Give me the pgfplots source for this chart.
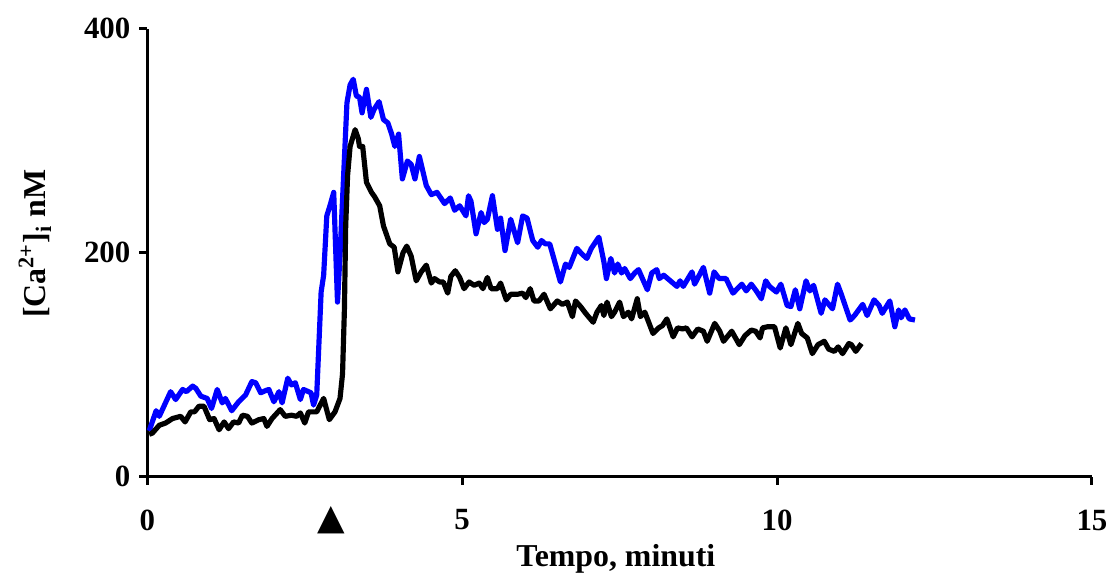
\documentclass[border=0pt]{standalone}
\usepackage{fontspec}
\setmainfont{Liberation Serif}
\newfontfamily\dejavu{DejaVu Sans}
\usepackage{pgfplots}
\pgfplotsset{compat=1.18}
\begin{document}
\begin{tikzpicture}
\begin{axis}[
  name=ax,
  scale only axis,
  width=474.5pt, height=225pt,
  xmin=0, xmax=15, ymin=0, ymax=400,
  axis lines=left,
  axis line style={-, line width=1.5pt},
  xtick={0,5,10,15}, ytick={0,200,400},
  tick align=outside,
  major tick length=4pt,
  every tick/.style={black, line width=1.5pt},
  /pgf/number format/assume math mode=true,
  tick label style={font=\fontsize{15.5}{18}\selectfont\bfseries},
  xticklabel style={yshift=-9pt},
  yticklabel style={xshift=-1pt},
  extra x ticks={2.92},
  extra x tick labels={{\dejavu\fontsize{18}{20}\selectfont ▲}},
  extra x tick style={major tick length=0pt, xticklabel style={yshift=-2.5pt}},
  xlabel={Tempo, minuti},
  ylabel={[Ca\textsuperscript{2+}]\textsubscript{i} nM},
  xlabel style={font=\fontsize{16}{19}\selectfont\bfseries, at={(axis description cs:0.496,-0.184)}, anchor=center},
  ylabel style={font=\fontsize{16}{19}\selectfont\bfseries, at={(axis description cs:-0.119,0.52)}, anchor=center, rotate=0},
  clip=false,
]
\addplot[blue, line width=2.6pt, line join=round] coordinates {
(0.03,41)(0.14,59)(0.19,54)(0.37,76)(0.45,69)(0.56,78)(0.62,76)(0.72,81)(0.77,79)(0.85,72)
(0.95,70)(1.02,61)(1.11,78)(1.19,66)(1.24,70)(1.34,59)(1.45,67)(1.56,73)(1.66,85)(1.72,84)
(1.80,75)(1.88,77)(1.93,78)(2.01,67)(2.09,76)(2.14,66)(2.23,88)(2.29,82)(2.35,84)(2.43,69)
(2.48,78)(2.56,76)(2.60,75)(2.64,64)(2.69,73)(2.76,165)(2.80,180)(2.85,233)(2.90,242)(2.96,254)
(3.02,156)(3.06,198)(3.11,260)(3.17,334)(3.22,350)(3.27,355)(3.32,340)(3.37,339)(3.41,325)(3.48,346)
(3.55,321)(3.60,328)(3.68,335)(3.75,319)(3.82,316)(3.88,306)(3.93,295)(3.99,306)(4.05,266)(4.13,282)
(4.19,279)(4.25,266)(4.32,286)(4.43,260)(4.51,252)(4.60,254)(4.72,244)(4.81,249)(4.88,238)(4.96,242)
(5.06,233)(5.10,251)(5.14,246)(5.22,217)(5.30,236)(5.35,227)(5.40,230)(5.48,251)(5.56,221)(5.61,231)
(5.68,202)(5.77,230)(5.88,209)(5.96,233)(6.03,231)(6.12,211)(6.20,205)(6.26,211)(6.32,208)(6.39,208)
(6.56,174)(6.64,190)(6.70,187)(6.82,204)(6.90,199)(6.98,195)(7.05,204)(7.17,214)(7.25,192)(7.29,177)
(7.36,195)(7.42,182)(7.47,190)(7.53,182)(7.58,186)(7.67,177)(7.74,182)(7.80,185)(7.94,167)(8.01,182)
(8.09,185)(8.13,177)(8.20,180)(8.41,170)(8.46,175)(8.51,170)(8.65,183)(8.69,172)(8.83,187)(8.93,164)
(9.00,183)(9.08,177)(9.19,177)(9.30,164)(9.44,172)(9.51,166)(9.59,172)(9.67,166)(9.75,159)(9.82,175)
(9.88,170)(9.99,165)(10.06,172)(10.16,153)(10.22,152)(10.29,167)(10.36,150)(10.46,175)(10.52,166)(10.58,171)
(10.70,146)(10.76,158)(10.88,150)(10.96,172)(11.02,163)(11.16,140)(11.23,144)(11.36,154)(11.43,144)(11.54,158)
(11.62,153)(11.67,146)(11.79,157)(11.87,134)(11.93,149)(11.97,142)(12.03,149)(12.10,141)(12.19,140)
};
\addplot[black, line width=2.6pt, line join=round] coordinates {
(0.03,38)(0.08,39)(0.19,46)(0.29,48)(0.40,52)(0.53,54)(0.60,49)(0.69,58)(0.75,58)(0.82,63)
(0.90,63)(0.99,51)(1.06,52)(1.14,42)(1.22,49)(1.29,43)(1.37,49)(1.45,48)(1.51,55)(1.59,54)
(1.66,48)(1.77,51)(1.85,52)(1.90,45)(1.98,52)(2.11,60)(2.19,54)(2.29,55)(2.37,54)(2.43,57)
(2.50,48)(2.56,58)(2.69,58)(2.80,70)(2.89,51)(2.98,58)(3.06,70)(3.10,92)(3.13,150)(3.15,224)
(3.18,269)(3.22,295)(3.30,310)(3.35,302)(3.37,295)(3.42,295)(3.48,263)(3.56,254)(3.61,250)(3.69,242)
(3.75,224)(3.85,208)(3.92,205)(3.98,183)(4.06,200)(4.12,206)(4.19,197)(4.27,175)(4.35,183)(4.43,189)
(4.51,173)(4.56,177)(4.64,174)(4.70,174)(4.77,164)(4.82,179)(4.89,184)(4.96,178)(5.03,168)(5.11,174)
(5.19,171)(5.27,173)(5.33,168)(5.40,178)(5.46,168)(5.56,168)(5.61,173)(5.70,158)(5.77,163)(5.88,163)
(5.96,164)(6.01,160)(6.08,168)(6.14,157)(6.22,157)(6.30,163)(6.40,150)(6.51,157)(6.59,154)(6.67,156)
(6.75,143)(6.80,157)(6.88,152)(6.96,146)(7.08,138)(7.14,147)(7.21,153)(7.25,144)(7.30,156)(7.37,143)
(7.42,147)(7.50,156)(7.56,143)(7.64,147)(7.69,141)(7.78,159)(7.83,143)(7.90,147)(8.03,128)(8.12,133)
(8.18,135)(8.25,141)(8.35,125)(8.42,133)(8.50,132)(8.56,133)(8.65,125)(8.74,132)(8.83,130)(8.89,121)
(9.01,137)(9.09,130)(9.15,121)(9.28,130)(9.40,118)(9.49,126)(9.59,131)(9.66,130)(9.73,124)(9.77,133)
(9.85,134)(9.96,134)(10.05,115)(10.14,133)(10.22,118)(10.33,137)(10.39,128)(10.48,124)(10.56,110)(10.65,118)
(10.75,121)(10.82,114)(10.91,112)(10.97,116)(11.04,110)(11.14,119)(11.18,118)(11.25,112)(11.34,119)
};
\end{axis}
\path ([xshift=-74pt,yshift=-49pt]ax.south west) rectangle ([xshift=483pt,yshift=239.5pt]ax.south west);
\end{tikzpicture}
\end{document}
